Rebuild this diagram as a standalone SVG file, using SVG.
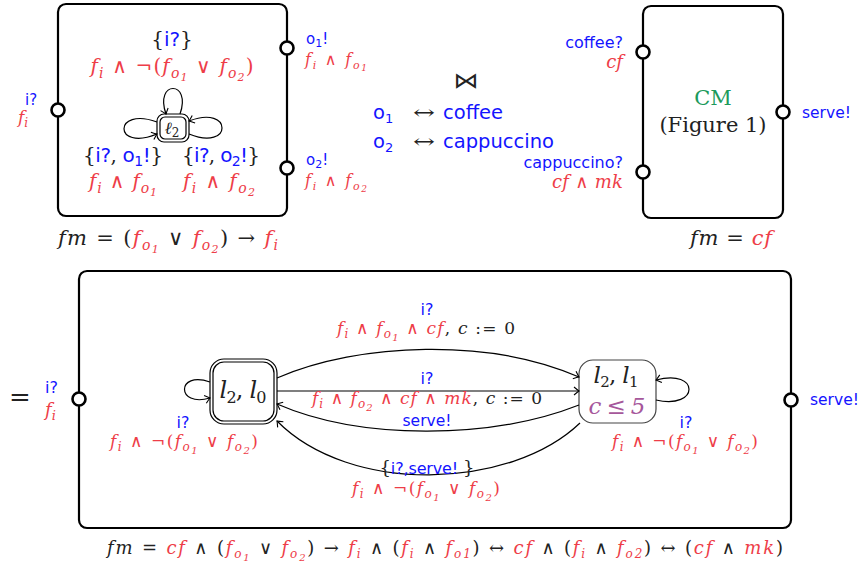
<svg xmlns="http://www.w3.org/2000/svg" width="860" height="565" viewBox="0 0 860 565">
<style>
.box{fill:#fff;stroke:#000;stroke-width:2.2}
.port{fill:#fff;stroke:#000;stroke-width:2.6}
.st{fill:#fff;stroke:#000;stroke-width:1.2}
.e{fill:none;stroke:#000;stroke-width:1.2}
.s{font-family:"DejaVu Sans","Liberation Sans",sans-serif}
.m{font-family:"DejaVu Serif","Liberation Serif",serif;font-style:italic}
.sf{font-family:"DejaVu Serif","Liberation Serif",serif}
.u{font-style:normal}
.R{fill:#ee3d48}
.B{fill:#1414ff}
.K{fill:#222}
.G{fill:#1c9a5c}
.P{fill:#a6579b}
</style>
<defs>
<marker id="ar" markerWidth="10" markerHeight="10" refX="0" refY="0" viewBox="-6 -5 7 10" orient="auto" markerUnits="userSpaceOnUse">
<path d="M-5,-4 Q-1.5,-1 0,0 Q-1.5,1 -5,4" fill="none" stroke="#000" stroke-width="1.1"/>
</marker>
</defs>

<!-- Top-left component -->
<g id="comp-left">
<rect class="box" x="58" y="4" width="229" height="212" rx="8"/>
<circle class="port" cx="58" cy="110" r="6.5"/>
<circle class="port" cx="287" cy="48" r="6.5"/>
<circle class="port" cx="287" cy="168" r="6.5"/>
<text x="25" y="105" class="s B" font-size="15">i?</text>
<text x="18" y="123" class="m R" font-size="17">f<tspan dy="3.5" font-size="12">i</tspan></text>
<text x="306" y="44" class="s B" font-size="15">o<tspan dy="3" font-size="11">1</tspan><tspan dy="-3">!</tspan></text>
<text x="305" y="65" class="m R" font-size="16" textLength="62" lengthAdjust="spacing">f<tspan dy="3.5" font-size="11">i</tspan><tspan dy="-3.5" class="u"> ∧ </tspan>f<tspan dy="3.5" font-size="11">o</tspan><tspan dy="2.5" font-size="9">1</tspan></text>
<text x="306" y="165" class="s B" font-size="15">o<tspan dy="3" font-size="11">2</tspan><tspan dy="-3">!</tspan></text>
<text x="305" y="186" class="m R" font-size="16" textLength="62" lengthAdjust="spacing">f<tspan dy="3.5" font-size="11">i</tspan><tspan dy="-3.5" class="u"> ∧ </tspan>f<tspan dy="3.5" font-size="11">o</tspan><tspan dy="2.5" font-size="9">2</tspan></text>
<text x="172" y="46" text-anchor="middle" font-size="20"><tspan class="sf K">{</tspan><tspan class="s B">i?</tspan><tspan class="sf K">}</tspan></text>
<text x="172" y="73" text-anchor="middle" class="m R" font-size="20" textLength="163" lengthAdjust="spacing">f<tspan dy="4.5" font-size="14">i</tspan><tspan dy="-4.5" class="u"> ∧ ¬(</tspan>f<tspan dy="4.5" font-size="14">o</tspan><tspan dy="3" font-size="11">1</tspan><tspan dy="-7.5" class="u"> ∨ </tspan>f<tspan dy="4.5" font-size="14">o</tspan><tspan dy="3" font-size="11">2</tspan><tspan dy="-7.5" class="u">)</tspan></text>
<text x="123" y="162" text-anchor="middle" font-size="20" textLength="80" lengthAdjust="spacing"><tspan class="sf K">{</tspan><tspan class="s B">i?</tspan><tspan class="sf K">, </tspan><tspan class="s B">o<tspan dy="4" font-size="14">1</tspan><tspan dy="-4">!</tspan></tspan><tspan class="sf K">}</tspan></text>
<text x="123" y="188" text-anchor="middle" class="m R" font-size="20" textLength="68" lengthAdjust="spacing">f<tspan dy="4.5" font-size="14">i</tspan><tspan dy="-4.5" class="u"> ∧ </tspan>f<tspan dy="4.5" font-size="14">o</tspan><tspan dy="3" font-size="11">1</tspan></text>
<text x="221" y="162" text-anchor="middle" font-size="20" textLength="78" lengthAdjust="spacing"><tspan class="sf K">{</tspan><tspan class="s B">i?</tspan><tspan class="sf K">, </tspan><tspan class="s B">o<tspan dy="4" font-size="14">2</tspan><tspan dy="-4">!</tspan></tspan><tspan class="sf K">}</tspan></text>
<text x="219" y="188" text-anchor="middle" class="m R" font-size="20" textLength="72" lengthAdjust="spacing">f<tspan dy="4.5" font-size="14">i</tspan><tspan dy="-4.5" class="u"> ∧ </tspan>f<tspan dy="4.5" font-size="14">o</tspan><tspan dy="3" font-size="11">2</tspan></text>
<text x="168" y="245" text-anchor="middle" class="m" font-size="21" textLength="220" lengthAdjust="spacing"><tspan class="K">fm</tspan><tspan class="u K"> = (</tspan><tspan class="R">f<tspan dy="4.5" font-size="14">o</tspan><tspan dy="3" font-size="11">1</tspan></tspan><tspan dy="-7.5" class="u K"> ∨ </tspan><tspan class="R">f<tspan dy="4.5" font-size="14">o</tspan><tspan dy="3" font-size="11">2</tspan></tspan><tspan dy="-7.5" class="u K">) → </tspan><tspan class="R">f<tspan dy="4.5" font-size="14">i</tspan></tspan></text>
</g>
<g id="l2">
<rect class="st" x="157" y="114" width="32" height="28" rx="7"/>
<rect class="st" x="160" y="117" width="26" height="22" rx="5"/>
<text x="172" y="134" text-anchor="middle" class="m K" font-size="17">ℓ<tspan dy="3" font-size="12" class="u">2</tspan></text>
</g>

<!-- Middle mapping -->
<g id="mapping">
<text x="466" y="88" text-anchor="middle" class="s K" font-size="22" textLength="25" lengthAdjust="spacingAndGlyphs">⋈</text>
<text x="373" y="119" class="s B" font-size="19.5">o<tspan dy="4" font-size="13">1</tspan></text>
<text x="413" y="119" class="sf K" font-size="19" textLength="22" lengthAdjust="spacingAndGlyphs">↔</text>
<text x="443" y="119" class="s B" font-size="19.5">coffee</text>
<text x="373" y="148" class="s B" font-size="19.5">o<tspan dy="4" font-size="13">2</tspan></text>
<text x="413" y="148" class="sf K" font-size="19" textLength="22" lengthAdjust="spacingAndGlyphs">↔</text>
<text x="443" y="148" class="s B" font-size="19.5">cappuccino</text>
</g>

<!-- Top-right component -->
<g id="comp-cm">
<rect class="box" x="643" y="6" width="140" height="212" rx="8"/>
<circle class="port" cx="643" cy="52" r="6.5"/>
<circle class="port" cx="643" cy="172" r="6.5"/>
<circle class="port" cx="783" cy="112" r="6.5"/>
<text x="623" y="48" text-anchor="end" class="s B" font-size="16">coffee?</text>
<text x="623" y="68" text-anchor="end" class="m R" font-size="18">cf</text>
<text x="623" y="188" text-anchor="end" class="m R" font-size="18" textLength="71" lengthAdjust="spacing">cf<tspan class="u"> ∧ </tspan>mk</text>
<text x="623" y="168" text-anchor="end" class="s B" font-size="16">cappuccino?</text>
<text x="802" y="118" class="s B" font-size="15.5">serve!</text>
<text x="713" y="105" text-anchor="middle" class="sf G" font-size="21">CM</text>
<text x="713" y="132" text-anchor="middle" class="sf K" font-size="21">(Figure 1)</text>
<text x="731" y="245" text-anchor="middle" class="m" font-size="21" textLength="82" lengthAdjust="spacing"><tspan class="K">fm</tspan><tspan class="u K"> = </tspan><tspan class="R">cf</tspan></text>
</g>

<!-- Bottom product -->
<text x="9" y="406" class="sf K" font-size="26">=</text>
<g id="comp-product">
<rect class="box" x="79" y="271" width="712" height="257" rx="8"/>
<circle class="port" cx="79" cy="399" r="6.5"/>
<circle class="port" cx="791" cy="400" r="6.5"/>
<text x="45" y="393" class="s B" font-size="16">i?</text>
<text x="45" y="416" class="m R" font-size="18">f<tspan dy="4" font-size="13">i</tspan></text>
<text x="810" y="405" class="s B" font-size="15.5">serve!</text>
<text x="445" y="554" text-anchor="middle" class="m" font-size="18" textLength="676" lengthAdjust="spacing"><tspan class="K">fm</tspan><tspan class="u K"> = </tspan><tspan class="R">cf</tspan><tspan class="u K">  ∧  (</tspan><tspan class="R">f<tspan dy="4" font-size="12">o</tspan><tspan dy="2.5" font-size="10">1</tspan></tspan><tspan dy="-6.5" class="u K"> ∨ </tspan><tspan class="R">f<tspan dy="4" font-size="12">o</tspan><tspan dy="2.5" font-size="10">2</tspan></tspan><tspan dy="-6.5" class="u K">) → </tspan><tspan class="R">f<tspan dy="4" font-size="12">i</tspan></tspan><tspan dy="-4" class="u K">  ∧  (</tspan><tspan class="R">f<tspan dy="4" font-size="12">i</tspan></tspan><tspan dy="-4" class="u K"> ∧ </tspan><tspan class="R">f<tspan dy="4" font-size="12">o1</tspan></tspan><tspan dy="-4" class="u K">) ↔ </tspan><tspan class="R">cf</tspan><tspan class="u K">  ∧  (</tspan><tspan class="R">f<tspan dy="4" font-size="12">i</tspan></tspan><tspan dy="-4" class="u K"> ∧ </tspan><tspan class="R">f<tspan dy="4" font-size="12">o2</tspan></tspan><tspan dy="-4" class="u K">) ↔ (</tspan><tspan class="R">cf</tspan><tspan class="u K"> ∧ </tspan><tspan class="R">mk</tspan><tspan class="u K">)</tspan></text>
</g>
<g id="l2l0">
<rect class="st" x="210" y="359" width="67" height="65" rx="14"/>
<rect class="st" x="213" y="362" width="61" height="59" rx="11"/>
<text x="243" y="398" text-anchor="middle" class="m K" font-size="24" textLength="47" lengthAdjust="spacing">l<tspan dy="5" font-size="16" class="u">2</tspan><tspan dy="-5" class="u">, </tspan>l<tspan dy="5" font-size="16" class="u">0</tspan></text>
</g>
<g id="l2l1">
<rect x="579" y="360" width="77" height="63" rx="14" fill="#fff" stroke="#444" stroke-width="1.2"/>
<text x="616" y="383" text-anchor="middle" class="m K" font-size="23" textLength="45" lengthAdjust="spacing">l<tspan dy="4" font-size="15" class="u">2</tspan><tspan dy="-4" class="u">, </tspan>l<tspan dy="4" font-size="15" class="u">1</tspan></text>
<text x="617" y="414" text-anchor="middle" class="m P" font-size="23" textLength="57" lengthAdjust="spacing">c<tspan class="u"> ≤ </tspan>5</text>
</g>

<!-- Connectors -->
<g id="connectors">
<path class="e" d="M180,114 C192,80 154,80 166,114" marker-end="url(#ar)"/>
<path class="e" d="M157,122 C113,106 113,152 157,134" marker-end="url(#ar)"/>
<path class="e" d="M189,134 C233,152 233,104 189,121" marker-end="url(#ar)"/>
<path class="e" d="M210,382 C176,370 176,408 210,398" marker-end="url(#ar)"/>
<path class="e" d="M656,400 C700,410 700,368 656,380" marker-end="url(#ar)"/>
<path class="e" d="M277,378 C360,342 490,338 579,377" marker-end="url(#ar)"/>
<path class="e" d="M277,391 L579,391" marker-end="url(#ar)"/>
<path class="e" d="M579,405 C490,440 360,440 277,404" marker-end="url(#ar)"/>
<path class="e" d="M580,423 C510,490 350,495 277,421" marker-end="url(#ar)"/>
</g>

<!-- Edge labels -->
<g id="edge-labels">
<text x="183" y="428" text-anchor="middle" class="s B" font-size="16">i?</text>
<text x="184" y="447" text-anchor="middle" class="m R" font-size="17" textLength="148" lengthAdjust="spacing">f<tspan dy="4" font-size="12">i</tspan><tspan dy="-4" class="u"> ∧ ¬(</tspan>f<tspan dy="4" font-size="12">o</tspan><tspan dy="2.5" font-size="10">1</tspan><tspan dy="-6.5" class="u"> ∨ </tspan>f<tspan dy="4" font-size="12">o</tspan><tspan dy="2.5" font-size="10">2</tspan><tspan dy="-6.5" class="u">)</tspan></text>
<text x="686" y="428" text-anchor="middle" class="s B" font-size="16">i?</text>
<text x="685" y="447" text-anchor="middle" class="m R" font-size="17" textLength="146" lengthAdjust="spacing">f<tspan dy="4" font-size="12">i</tspan><tspan dy="-4" class="u"> ∧ ¬(</tspan>f<tspan dy="4" font-size="12">o</tspan><tspan dy="2.5" font-size="10">1</tspan><tspan dy="-6.5" class="u"> ∨ </tspan>f<tspan dy="4" font-size="12">o</tspan><tspan dy="2.5" font-size="10">2</tspan><tspan dy="-6.5" class="u">)</tspan></text>
<text x="427" y="315" text-anchor="middle" class="s B" font-size="16">i?</text>
<text x="426" y="334" text-anchor="middle" class="m" font-size="17" textLength="178" lengthAdjust="spacing"><tspan class="R">f<tspan dy="4" font-size="12">i</tspan><tspan dy="-4" class="u"> ∧ </tspan>f<tspan dy="4" font-size="12">o</tspan><tspan dy="2.5" font-size="10">1</tspan><tspan dy="-6.5" class="u"> ∧ </tspan>cf</tspan><tspan class="K"><tspan class="u">, </tspan>c<tspan class="u"> := 0</tspan></tspan></text>
<text x="427" y="384" text-anchor="middle" class="s B" font-size="16">i?</text>
<text x="427" y="404" text-anchor="middle" class="m" font-size="17" textLength="230" lengthAdjust="spacing"><tspan class="R">f<tspan dy="4" font-size="12">i</tspan><tspan dy="-4" class="u"> ∧ </tspan>f<tspan dy="4" font-size="12">o</tspan><tspan dy="2.5" font-size="10">2</tspan><tspan dy="-6.5" class="u"> ∧ </tspan>cf<tspan class="u"> ∧ </tspan>mk</tspan><tspan class="K"><tspan class="u">, </tspan>c<tspan class="u"> := 0</tspan></tspan></text>
<text x="427" y="426" text-anchor="middle" class="s B" font-size="15.5">serve!</text>
<text x="427" y="474" text-anchor="middle" font-size="18" textLength="95" lengthAdjust="spacing"><tspan class="sf K">{</tspan><tspan class="s B" font-size="16">i?,serve! </tspan><tspan class="sf K">}</tspan></text>
<text x="426" y="494" text-anchor="middle" class="m R" font-size="17" textLength="148" lengthAdjust="spacing">f<tspan dy="4" font-size="12">i</tspan><tspan dy="-4" class="u"> ∧ ¬(</tspan>f<tspan dy="4" font-size="12">o</tspan><tspan dy="2.5" font-size="10">1</tspan><tspan dy="-6.5" class="u"> ∨ </tspan>f<tspan dy="4" font-size="12">o</tspan><tspan dy="2.5" font-size="10">2</tspan><tspan dy="-6.5" class="u">)</tspan></text>
</g>
</svg>
